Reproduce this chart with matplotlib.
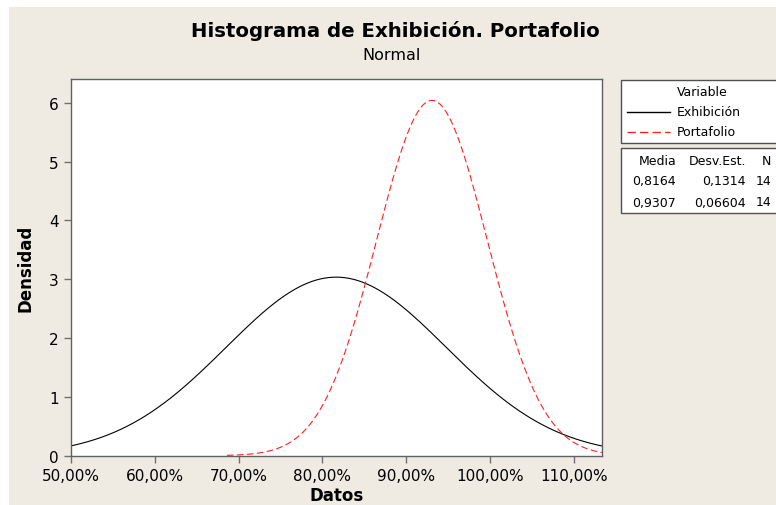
import numpy as np
import matplotlib
matplotlib.use("Agg")
import matplotlib.pyplot as plt
from matplotlib.ticker import FuncFormatter
from matplotlib.patches import Rectangle

# summary values shown in the Minitab table
variables = ["Exhibición", "Portafolio"]
medias = [0.8164, 0.9307]
desv_est = [0.1314, 0.06604]
n_obs = [14, 14]
colors = ["black", "#ff2020"]
styles = ["-", (0, (6, 3))]
# where Minitab starts each fitted curve
x_start = [0.45, 0.686]

xticks = [0.5, 0.6, 0.7, 0.8, 0.9, 1.0, 1.1]
yticks = [0, 1, 2, 3, 4, 5, 6]

bg = "#efebe2"
W, H = 776, 506

fig = plt.figure(figsize=(W / 100, H / 100), dpi=100)
fig.patch.set_facecolor("white")
# beige panel (thin white margin on top / left like the screenshot)
fig.add_artist(Rectangle((9 / W, 0), 1, 1 - 8 / H, transform=fig.transFigure,
                         facecolor=bg, edgecolor="none", zorder=-10))

ax = fig.add_axes([71 / W, 1 - 456.7 / H, (602 - 71) / W, (456.7 - 80.3) / H])
ax.set_facecolor("white")

for mu, sd, c, ls, xs in zip(medias, desv_est, colors, styles, x_start):
    x = np.linspace(xs, 1.2, 600)
    y = np.exp(-0.5 * ((x - mu) / sd) ** 2) / (sd * np.sqrt(2 * np.pi))
    ax.plot(x, y, color=c, linestyle=ls, linewidth=0.8)

ax.set_xlim(0.5, 1.1336)
ax.set_ylim(0, 6.40)
ax.set_xticks(xticks)
ax.set_yticks(yticks)
ax.xaxis.set_major_formatter(FuncFormatter(lambda v, p: f"{v * 100:.2f}%".replace(".", ",")))
ax.tick_params(direction="out", length=5, width=1, color="#707070",
               labelsize=11, labelcolor="black", pad=4)
for s in ax.spines.values():
    s.set_color("#606060")
    s.set_linewidth(1)

ax.set_xlabel("Datos", fontsize=12, fontweight="bold", labelpad=2)
ax.set_ylabel("Densidad", fontsize=12, fontweight="bold", labelpad=10)

fig.text(395 / W, 1 - 31 / H, "Histograma de Exhibición. Portafolio",
         ha="center", va="center", fontsize=14.2, fontweight="bold")
fig.text(392 / W, 1 - 56 / H, "Normal", ha="center", va="center", fontsize=11.5)

# legend box
def fx(px):
    return px / W

def fy(py):
    return 1 - py / H

fig.add_artist(Rectangle((fx(621), fy(144)), fx(170), (144 - 80.7) / H,
                         transform=fig.transFigure, facecolor="white",
                         edgecolor="#505050", linewidth=1))
fig.add_artist(Rectangle((fx(621), fy(214)), fx(170), (214 - 149) / H,
                         transform=fig.transFigure, facecolor="white",
                         edgecolor="#505050", linewidth=1))

fs = 9
fig.text(fx(702), fy(93), "Variable", ha="center", va="center", fontsize=fs)
for i, (name, c, ls) in enumerate(zip(variables, colors, styles)):
    yy = fy(113 + 19.5 * i)
    fig.add_artist(plt.Line2D([fx(627), fx(670)], [yy, yy], transform=fig.transFigure,
                              color=c, linestyle=ls, linewidth=1))
    fig.text(fx(677), yy, name, ha="left", va="center", fontsize=fs)

fig.text(fx(676), fy(162), "Media", ha="right", va="center", fontsize=fs)
fig.text(fx(746), fy(162), "Desv.Est.", ha="right", va="center", fontsize=fs)
fig.text(fx(771), fy(162), "N", ha="right", va="center", fontsize=fs)
for i in range(len(variables)):
    yy = fy(182 + 21 * i)
    fig.text(fx(676), yy, f"{medias[i]:.4f}".replace(".", ","), ha="right", va="center", fontsize=fs)
    fig.text(fx(746), yy, f"{desv_est[i]:g}".replace(".", ","), ha="right", va="center", fontsize=fs)
    fig.text(fx(771), yy, str(n_obs[i]), ha="right", va="center", fontsize=fs)

fig.savefig("out.png", dpi=100, facecolor=fig.get_facecolor())
